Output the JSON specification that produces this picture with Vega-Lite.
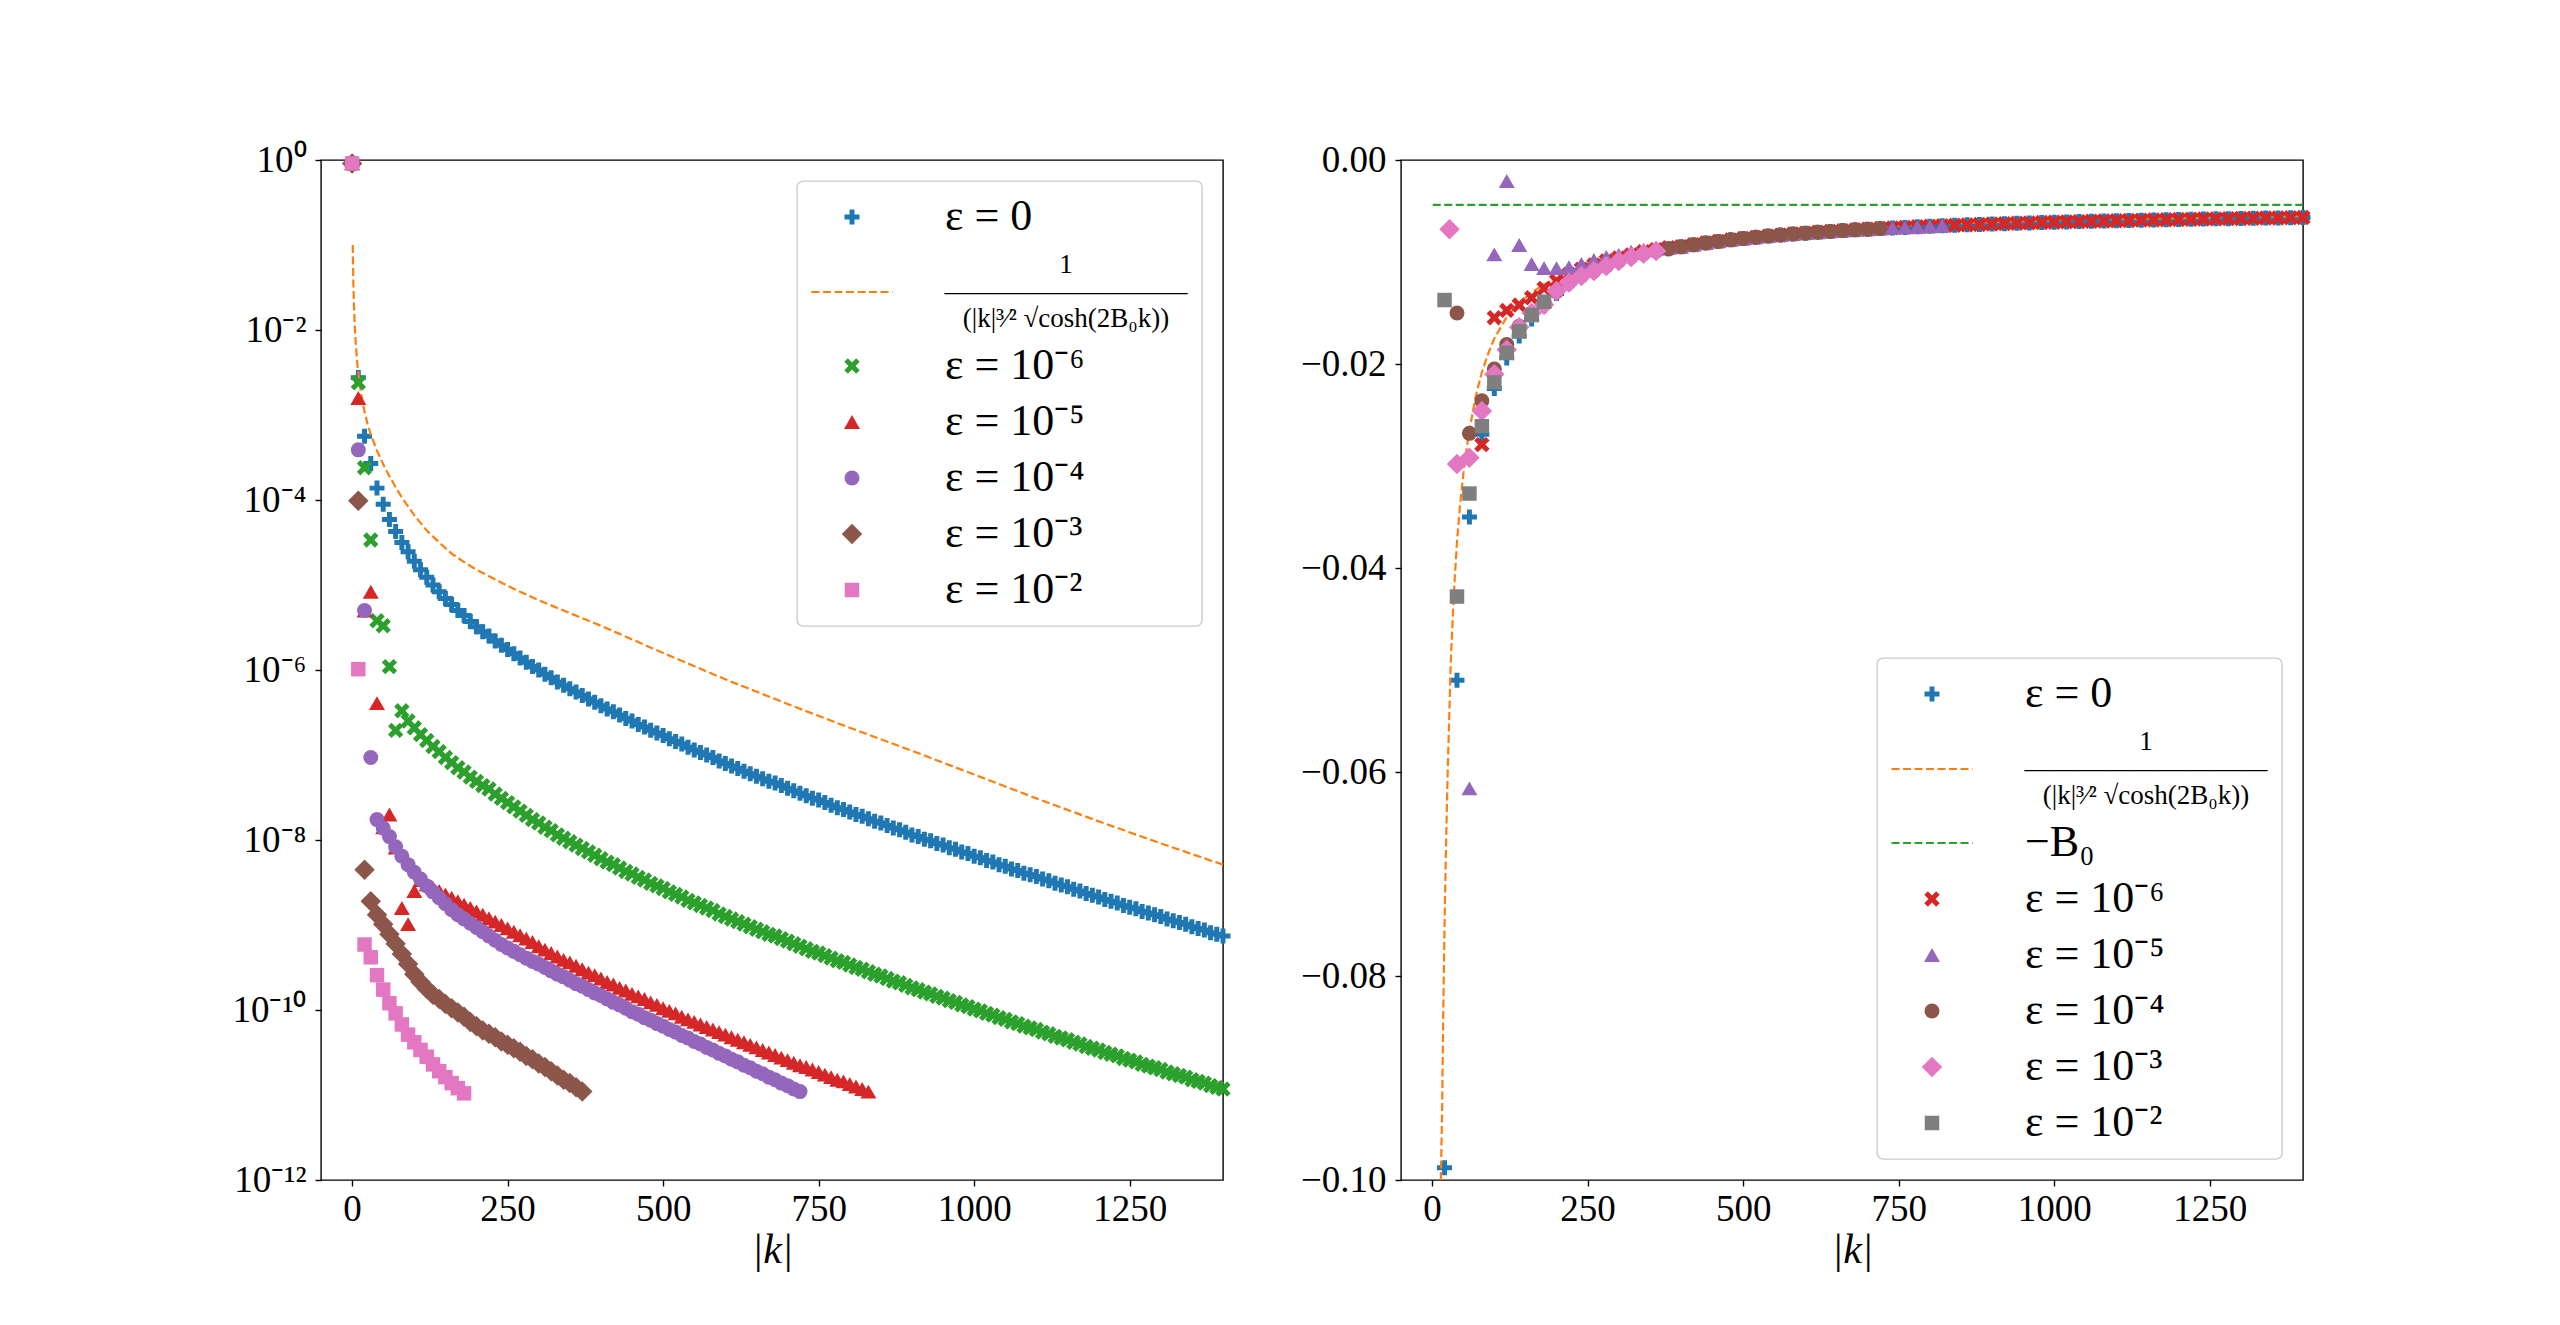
{
  "$schema": "https://vega.github.io/schema/vega-lite/v6.json",
  "background": "white",
  "padding": {"left": 210, "top": 140, "right": 10, "bottom": 10},
  "config": {
    "font": "Liberation Serif",
    "view": {"stroke": "black", "strokeWidth": 1.4},
    "axis": {
      "domain": false, "grid": false,
      "labelFont": "Liberation Serif", "labelFontSize": 37, "labelColor": "black",
      "tickColor": "black", "tickWidth": 1.4, "tickSize": 6,
      "titleFont": "Liberation Serif", "titleFontSize": 42, "titleFontWeight": "normal", "titleColor": "black"
    },
    "axisX": {"labelPadding": 5, "titlePadding": 2, "labelFlush": false},
    "axisY": {"labelPadding": 9},
    "legend": {
      "padding": 14, "rowPadding": 12, "offset": 21,
      "labelFont": "Liberation Serif", "labelFontSize": 44, "labelColor": "black", "labelLimit": 700,
      "fillColor": "rgba(255,255,255,0.8)", "strokeColor": "#cccccc", "strokeWidth": 1.4, "cornerRadius": 6,
      "symbolOffset": 19, "labelOffset": 71, "symbolOpacity": 1
    }
  },
  "datasets": {
    "L_e0": [{"k":10,"v":-2.56},{"k":20,"v":-3.25},{"k":30,"v":-3.57},{"k":40,"v":-3.86},{"k":50,"v":-4.05},{"k":60,"v":-4.23},{"k":70,"v":-4.37},{"k":80,"v":-4.5},{"k":90,"v":-4.61},{"k":100,"v":-4.72},{"k":110,"v":-4.82},{"k":120,"v":-4.91},{"k":130,"v":-5.0},{"k":140,"v":-5.08},{"k":150,"v":-5.16},{"k":160,"v":-5.23},{"k":170,"v":-5.3},{"k":180,"v":-5.36},{"k":190,"v":-5.43},{"k":200,"v":-5.49},{"k":210,"v":-5.55},{"k":220,"v":-5.6},{"k":230,"v":-5.66},{"k":240,"v":-5.71},{"k":250,"v":-5.76},{"k":260,"v":-5.81},{"k":270,"v":-5.86},{"k":280,"v":-5.91},{"k":290,"v":-5.96},{"k":300,"v":-6.0},{"k":310,"v":-6.05},{"k":320,"v":-6.09},{"k":330,"v":-6.14},{"k":340,"v":-6.18},{"k":350,"v":-6.22},{"k":360,"v":-6.26},{"k":370,"v":-6.3},{"k":380,"v":-6.34},{"k":390,"v":-6.38},{"k":400,"v":-6.42},{"k":410,"v":-6.46},{"k":420,"v":-6.49},{"k":430,"v":-6.53},{"k":440,"v":-6.57},{"k":450,"v":-6.6},{"k":460,"v":-6.64},{"k":470,"v":-6.67},{"k":480,"v":-6.71},{"k":490,"v":-6.74},{"k":500,"v":-6.77},{"k":510,"v":-6.81},{"k":520,"v":-6.84},{"k":530,"v":-6.87},{"k":540,"v":-6.91},{"k":550,"v":-6.94},{"k":560,"v":-6.97},{"k":570,"v":-7.0},{"k":580,"v":-7.03},{"k":590,"v":-7.07},{"k":600,"v":-7.1},{"k":610,"v":-7.13},{"k":620,"v":-7.16},{"k":630,"v":-7.19},{"k":640,"v":-7.22},{"k":650,"v":-7.25},{"k":660,"v":-7.28},{"k":670,"v":-7.31},{"k":680,"v":-7.33},{"k":690,"v":-7.36},{"k":700,"v":-7.39},{"k":710,"v":-7.42},{"k":720,"v":-7.45},{"k":730,"v":-7.48},{"k":740,"v":-7.51},{"k":750,"v":-7.53},{"k":760,"v":-7.56},{"k":770,"v":-7.59},{"k":780,"v":-7.62},{"k":790,"v":-7.64},{"k":800,"v":-7.67},{"k":810,"v":-7.7},{"k":820,"v":-7.72},{"k":830,"v":-7.75},{"k":840,"v":-7.78},{"k":850,"v":-7.8},{"k":860,"v":-7.83},{"k":870,"v":-7.86},{"k":880,"v":-7.88},{"k":890,"v":-7.91},{"k":900,"v":-7.94},{"k":910,"v":-7.96},{"k":920,"v":-7.99},{"k":930,"v":-8.01},{"k":940,"v":-8.04},{"k":950,"v":-8.06},{"k":960,"v":-8.09},{"k":970,"v":-8.11},{"k":980,"v":-8.14},{"k":990,"v":-8.16},{"k":1000,"v":-8.19},{"k":1010,"v":-8.21},{"k":1020,"v":-8.24},{"k":1030,"v":-8.26},{"k":1040,"v":-8.29},{"k":1050,"v":-8.31},{"k":1060,"v":-8.34},{"k":1070,"v":-8.36},{"k":1080,"v":-8.39},{"k":1090,"v":-8.41},{"k":1100,"v":-8.43},{"k":1110,"v":-8.46},{"k":1120,"v":-8.48},{"k":1130,"v":-8.51},{"k":1140,"v":-8.53},{"k":1150,"v":-8.55},{"k":1160,"v":-8.58},{"k":1170,"v":-8.6},{"k":1180,"v":-8.63},{"k":1190,"v":-8.65},{"k":1200,"v":-8.67},{"k":1210,"v":-8.7},{"k":1220,"v":-8.72},{"k":1230,"v":-8.74},{"k":1240,"v":-8.77},{"k":1250,"v":-8.79},{"k":1260,"v":-8.81},{"k":1270,"v":-8.84},{"k":1280,"v":-8.86},{"k":1290,"v":-8.88},{"k":1300,"v":-8.9},{"k":1310,"v":-8.93},{"k":1320,"v":-8.95},{"k":1330,"v":-8.97},{"k":1340,"v":-8.99},{"k":1350,"v":-9.02},{"k":1360,"v":-9.04},{"k":1370,"v":-9.06},{"k":1380,"v":-9.09},{"k":1390,"v":-9.11},{"k":1400,"v":-9.13}],
    "L_fit": [{"k":1,"v":-1.0},{"k":2,"v":-1.45},{"k":3,"v":-1.72},{"k":4,"v":-1.9},{"k":5,"v":-2.05},{"k":6,"v":-2.17},{"k":8,"v":-2.36},{"k":10,"v":-2.5},{"k":12,"v":-2.62},{"k":15,"v":-2.77},{"k":20,"v":-2.96},{"k":25,"v":-3.11},{"k":30,"v":-3.23},{"k":40,"v":-3.42},{"k":50,"v":-3.58},{"k":60,"v":-3.72},{"k":70,"v":-3.85},{"k":80,"v":-3.97},{"k":100,"v":-4.18},{"k":120,"v":-4.36},{"k":140,"v":-4.5},{"k":160,"v":-4.63},{"k":180,"v":-4.73},{"k":200,"v":-4.82},{"k":250,"v":-5.01},{"k":300,"v":-5.18},{"k":350,"v":-5.33},{"k":400,"v":-5.48},{"k":450,"v":-5.64},{"k":500,"v":-5.8},{"k":600,"v":-6.11},{"k":700,"v":-6.4},{"k":800,"v":-6.68},{"k":900,"v":-6.95},{"k":1000,"v":-7.23},{"k":1100,"v":-7.51},{"k":1200,"v":-7.78},{"k":1300,"v":-8.04},{"k":1400,"v":-8.29}],
    "L_e6": [{"k":0,"v":-0.04},{"k":10,"v":-2.62},{"k":20,"v":-3.62},{"k":30,"v":-4.47},{"k":40,"v":-5.42},{"k":50,"v":-5.48},{"k":60,"v":-5.96},{"k":70,"v":-6.71},{"k":80,"v":-6.48},{"k":90,"v":-6.6},{"k":100,"v":-6.68},{"k":110,"v":-6.76},{"k":120,"v":-6.83},{"k":130,"v":-6.9},{"k":140,"v":-6.96},{"k":150,"v":-7.03},{"k":160,"v":-7.09},{"k":170,"v":-7.15},{"k":180,"v":-7.2},{"k":190,"v":-7.26},{"k":200,"v":-7.31},{"k":210,"v":-7.36},{"k":220,"v":-7.4},{"k":230,"v":-7.46},{"k":240,"v":-7.51},{"k":250,"v":-7.56},{"k":260,"v":-7.61},{"k":270,"v":-7.66},{"k":280,"v":-7.71},{"k":290,"v":-7.76},{"k":300,"v":-7.8},{"k":310,"v":-7.85},{"k":320,"v":-7.89},{"k":330,"v":-7.94},{"k":340,"v":-7.98},{"k":350,"v":-8.02},{"k":360,"v":-8.06},{"k":370,"v":-8.1},{"k":380,"v":-8.14},{"k":390,"v":-8.18},{"k":400,"v":-8.22},{"k":410,"v":-8.26},{"k":420,"v":-8.29},{"k":430,"v":-8.33},{"k":440,"v":-8.37},{"k":450,"v":-8.4},{"k":460,"v":-8.44},{"k":470,"v":-8.47},{"k":480,"v":-8.51},{"k":490,"v":-8.54},{"k":500,"v":-8.57},{"k":510,"v":-8.61},{"k":520,"v":-8.64},{"k":530,"v":-8.67},{"k":540,"v":-8.71},{"k":550,"v":-8.74},{"k":560,"v":-8.77},{"k":570,"v":-8.8},{"k":580,"v":-8.83},{"k":590,"v":-8.87},{"k":600,"v":-8.9},{"k":610,"v":-8.93},{"k":620,"v":-8.96},{"k":630,"v":-8.99},{"k":640,"v":-9.02},{"k":650,"v":-9.05},{"k":660,"v":-9.08},{"k":670,"v":-9.11},{"k":680,"v":-9.13},{"k":690,"v":-9.16},{"k":700,"v":-9.19},{"k":710,"v":-9.22},{"k":720,"v":-9.25},{"k":730,"v":-9.28},{"k":740,"v":-9.31},{"k":750,"v":-9.33},{"k":760,"v":-9.36},{"k":770,"v":-9.39},{"k":780,"v":-9.42},{"k":790,"v":-9.44},{"k":800,"v":-9.47},{"k":810,"v":-9.5},{"k":820,"v":-9.52},{"k":830,"v":-9.55},{"k":840,"v":-9.58},{"k":850,"v":-9.6},{"k":860,"v":-9.63},{"k":870,"v":-9.66},{"k":880,"v":-9.68},{"k":890,"v":-9.71},{"k":900,"v":-9.74},{"k":910,"v":-9.76},{"k":920,"v":-9.79},{"k":930,"v":-9.81},{"k":940,"v":-9.84},{"k":950,"v":-9.86},{"k":960,"v":-9.89},{"k":970,"v":-9.91},{"k":980,"v":-9.94},{"k":990,"v":-9.96},{"k":1000,"v":-9.99},{"k":1010,"v":-10.01},{"k":1020,"v":-10.04},{"k":1030,"v":-10.06},{"k":1040,"v":-10.09},{"k":1050,"v":-10.11},{"k":1060,"v":-10.14},{"k":1070,"v":-10.16},{"k":1080,"v":-10.19},{"k":1090,"v":-10.21},{"k":1100,"v":-10.23},{"k":1110,"v":-10.26},{"k":1120,"v":-10.28},{"k":1130,"v":-10.31},{"k":1140,"v":-10.33},{"k":1150,"v":-10.35},{"k":1160,"v":-10.38},{"k":1170,"v":-10.4},{"k":1180,"v":-10.43},{"k":1190,"v":-10.45},{"k":1200,"v":-10.47},{"k":1210,"v":-10.5},{"k":1220,"v":-10.52},{"k":1230,"v":-10.54},{"k":1240,"v":-10.57},{"k":1250,"v":-10.59},{"k":1260,"v":-10.61},{"k":1270,"v":-10.64},{"k":1280,"v":-10.66},{"k":1290,"v":-10.68},{"k":1300,"v":-10.7},{"k":1310,"v":-10.73},{"k":1320,"v":-10.75},{"k":1330,"v":-10.77},{"k":1340,"v":-10.79},{"k":1350,"v":-10.82},{"k":1360,"v":-10.84},{"k":1370,"v":-10.86},{"k":1380,"v":-10.89},{"k":1390,"v":-10.91},{"k":1400,"v":-10.93}],
    "L_e5": [{"k":0,"v":-0.04},{"k":10,"v":-2.8},{"k":20,"v":-5.3},{"k":30,"v":-5.08},{"k":40,"v":-6.39},{"k":50,"v":-7.85},{"k":60,"v":-7.7},{"k":70,"v":-8.09},{"k":80,"v":-8.8},{"k":90,"v":-8.99},{"k":100,"v":-8.6},{"k":110,"v":-8.47},{"k":120,"v":-8.52},{"k":130,"v":-8.56},{"k":140,"v":-8.6},{"k":150,"v":-8.64},{"k":160,"v":-8.68},{"k":170,"v":-8.72},{"k":180,"v":-8.76},{"k":190,"v":-8.8},{"k":200,"v":-8.84},{"k":210,"v":-8.88},{"k":220,"v":-8.92},{"k":230,"v":-8.96},{"k":240,"v":-9.0},{"k":250,"v":-9.04},{"k":260,"v":-9.08},{"k":270,"v":-9.12},{"k":280,"v":-9.16},{"k":290,"v":-9.2},{"k":300,"v":-9.25},{"k":310,"v":-9.29},{"k":320,"v":-9.33},{"k":330,"v":-9.37},{"k":340,"v":-9.41},{"k":350,"v":-9.44},{"k":360,"v":-9.48},{"k":370,"v":-9.52},{"k":380,"v":-9.56},{"k":390,"v":-9.59},{"k":400,"v":-9.63},{"k":410,"v":-9.67},{"k":420,"v":-9.7},{"k":430,"v":-9.74},{"k":440,"v":-9.77},{"k":450,"v":-9.81},{"k":460,"v":-9.84},{"k":470,"v":-9.87},{"k":480,"v":-9.91},{"k":490,"v":-9.94},{"k":500,"v":-9.98},{"k":510,"v":-10.01},{"k":520,"v":-10.04},{"k":530,"v":-10.08},{"k":540,"v":-10.11},{"k":550,"v":-10.14},{"k":560,"v":-10.17},{"k":570,"v":-10.2},{"k":580,"v":-10.23},{"k":590,"v":-10.26},{"k":600,"v":-10.29},{"k":610,"v":-10.32},{"k":620,"v":-10.35},{"k":630,"v":-10.38},{"k":640,"v":-10.41},{"k":650,"v":-10.44},{"k":660,"v":-10.47},{"k":670,"v":-10.5},{"k":680,"v":-10.53},{"k":690,"v":-10.56},{"k":700,"v":-10.59},{"k":710,"v":-10.62},{"k":720,"v":-10.65},{"k":730,"v":-10.67},{"k":740,"v":-10.7},{"k":750,"v":-10.73},{"k":760,"v":-10.76},{"k":770,"v":-10.79},{"k":780,"v":-10.82},{"k":790,"v":-10.84},{"k":800,"v":-10.87},{"k":810,"v":-10.9},{"k":820,"v":-10.93},{"k":830,"v":-10.96}],
    "L_e4": [{"k":0,"v":-0.04},{"k":10,"v":-3.41},{"k":20,"v":-5.3},{"k":30,"v":-7.03},{"k":40,"v":-7.76},{"k":50,"v":-7.86},{"k":60,"v":-7.96},{"k":70,"v":-8.08},{"k":80,"v":-8.19},{"k":90,"v":-8.29},{"k":100,"v":-8.38},{"k":110,"v":-8.46},{"k":120,"v":-8.54},{"k":130,"v":-8.61},{"k":140,"v":-8.68},{"k":150,"v":-8.75},{"k":160,"v":-8.82},{"k":170,"v":-8.88},{"k":180,"v":-8.93},{"k":190,"v":-8.98},{"k":200,"v":-9.03},{"k":210,"v":-9.08},{"k":220,"v":-9.13},{"k":230,"v":-9.18},{"k":240,"v":-9.23},{"k":250,"v":-9.27},{"k":260,"v":-9.31},{"k":270,"v":-9.35},{"k":280,"v":-9.39},{"k":290,"v":-9.43},{"k":300,"v":-9.46},{"k":310,"v":-9.5},{"k":320,"v":-9.54},{"k":330,"v":-9.58},{"k":340,"v":-9.61},{"k":350,"v":-9.65},{"k":360,"v":-9.69},{"k":370,"v":-9.72},{"k":380,"v":-9.76},{"k":390,"v":-9.8},{"k":400,"v":-9.83},{"k":410,"v":-9.87},{"k":420,"v":-9.91},{"k":430,"v":-9.94},{"k":440,"v":-9.98},{"k":450,"v":-10.02},{"k":460,"v":-10.05},{"k":470,"v":-10.09},{"k":480,"v":-10.12},{"k":490,"v":-10.16},{"k":500,"v":-10.19},{"k":510,"v":-10.23},{"k":520,"v":-10.26},{"k":530,"v":-10.3},{"k":540,"v":-10.33},{"k":550,"v":-10.37},{"k":560,"v":-10.4},{"k":570,"v":-10.44},{"k":580,"v":-10.47},{"k":590,"v":-10.51},{"k":600,"v":-10.54},{"k":610,"v":-10.58},{"k":620,"v":-10.61},{"k":630,"v":-10.65},{"k":640,"v":-10.68},{"k":650,"v":-10.72},{"k":660,"v":-10.75},{"k":670,"v":-10.79},{"k":680,"v":-10.82},{"k":690,"v":-10.86},{"k":700,"v":-10.89},{"k":710,"v":-10.93},{"k":720,"v":-10.96}],
    "L_e3": [{"k":0,"v":-0.04},{"k":10,"v":-4.01},{"k":20,"v":-8.35},{"k":30,"v":-8.72},{"k":40,"v":-8.88},{"k":50,"v":-8.99},{"k":60,"v":-9.11},{"k":70,"v":-9.22},{"k":80,"v":-9.34},{"k":90,"v":-9.46},{"k":100,"v":-9.58},{"k":110,"v":-9.67},{"k":120,"v":-9.75},{"k":130,"v":-9.82},{"k":140,"v":-9.87},{"k":150,"v":-9.93},{"k":160,"v":-9.98},{"k":170,"v":-10.03},{"k":180,"v":-10.08},{"k":190,"v":-10.14},{"k":200,"v":-10.19},{"k":210,"v":-10.24},{"k":220,"v":-10.28},{"k":230,"v":-10.32},{"k":240,"v":-10.37},{"k":250,"v":-10.41},{"k":260,"v":-10.45},{"k":270,"v":-10.49},{"k":280,"v":-10.54},{"k":290,"v":-10.58},{"k":300,"v":-10.63},{"k":310,"v":-10.67},{"k":320,"v":-10.72},{"k":330,"v":-10.77},{"k":340,"v":-10.82},{"k":350,"v":-10.86},{"k":360,"v":-10.91},{"k":370,"v":-10.96}],
    "L_e2": [{"k":0,"v":-0.04},{"k":10,"v":-5.99},{"k":20,"v":-9.23},{"k":30,"v":-9.38},{"k":40,"v":-9.59},{"k":50,"v":-9.76},{"k":60,"v":-9.92},{"k":70,"v":-10.04},{"k":80,"v":-10.17},{"k":90,"v":-10.29},{"k":100,"v":-10.38},{"k":110,"v":-10.47},{"k":120,"v":-10.55},{"k":130,"v":-10.64},{"k":140,"v":-10.72},{"k":150,"v":-10.79},{"k":160,"v":-10.86},{"k":170,"v":-10.92},{"k":180,"v":-10.98}],
    "R_e0": [{"k":20,"v":-0.0988},{"k":40,"v":-0.051},{"k":60,"v":-0.035},{"k":80,"v":-0.0269},{"k":100,"v":-0.0224},{"k":120,"v":-0.0194},{"k":140,"v":-0.01725},{"k":160,"v":-0.0156},{"k":180,"v":-0.0143},{"k":200,"v":-0.0131},{"k":220,"v":-0.0121},{"k":240,"v":-0.0114},{"k":260,"v":-0.0109},{"k":280,"v":-0.0104},{"k":300,"v":-0.0099},{"k":320,"v":-0.00951},{"k":340,"v":-0.00918},{"k":360,"v":-0.00892},{"k":380,"v":-0.00871},{"k":400,"v":-0.0085},{"k":420,"v":-0.00831},{"k":440,"v":-0.00814},{"k":460,"v":-0.00798},{"k":480,"v":-0.00783},{"k":500,"v":-0.0077},{"k":520,"v":-0.00758},{"k":540,"v":-0.00746},{"k":560,"v":-0.00736},{"k":580,"v":-0.00726},{"k":600,"v":-0.00717},{"k":620,"v":-0.00708},{"k":640,"v":-0.007},{"k":660,"v":-0.00692},{"k":680,"v":-0.00685},{"k":700,"v":-0.00679},{"k":720,"v":-0.00672},{"k":740,"v":-0.00666},{"k":760,"v":-0.00661},{"k":780,"v":-0.00655},{"k":800,"v":-0.0065},{"k":820,"v":-0.00645},{"k":840,"v":-0.0064},{"k":860,"v":-0.00636},{"k":880,"v":-0.00632},{"k":900,"v":-0.00628},{"k":920,"v":-0.00624},{"k":940,"v":-0.0062},{"k":960,"v":-0.00617},{"k":980,"v":-0.00613},{"k":1000,"v":-0.0061},{"k":1020,"v":-0.00607},{"k":1040,"v":-0.00604},{"k":1060,"v":-0.00601},{"k":1080,"v":-0.00598},{"k":1100,"v":-0.00595},{"k":1120,"v":-0.00593},{"k":1140,"v":-0.0059},{"k":1160,"v":-0.00588},{"k":1180,"v":-0.00586},{"k":1200,"v":-0.00583},{"k":1220,"v":-0.00581},{"k":1240,"v":-0.00579},{"k":1260,"v":-0.00577},{"k":1280,"v":-0.00575},{"k":1300,"v":-0.00573},{"k":1320,"v":-0.00571},{"k":1340,"v":-0.00569},{"k":1360,"v":-0.00568},{"k":1380,"v":-0.00566},{"k":1400,"v":-0.00564}],
    "R_fit": [{"k":14,"v":-0.1},{"k":16,"v":-0.0935},{"k":18,"v":-0.0832},{"k":20,"v":-0.075},{"k":22,"v":-0.0684},{"k":25,"v":-0.06},{"k":28,"v":-0.0536},{"k":30,"v":-0.0492},{"k":35,"v":-0.0425},{"k":40,"v":-0.0374},{"k":45,"v":-0.0338},{"k":50,"v":-0.0309},{"k":55,"v":-0.0285},{"k":60,"v":-0.0265},{"k":70,"v":-0.0232},{"k":80,"v":-0.0208},{"k":90,"v":-0.019},{"k":100,"v":-0.0175},{"k":120,"v":-0.0154},{"k":140,"v":-0.014},{"k":160,"v":-0.013},{"k":180,"v":-0.0122},{"k":200,"v":-0.0116},{"k":250,"v":-0.0102},{"k":300,"v":-0.0093},{"k":350,"v":-0.0086},{"k":400,"v":-0.0081},{"k":500,"v":-0.0074},{"k":600,"v":-0.0069},{"k":700,"v":-0.0066},{"k":800,"v":-0.0063},{"k":900,"v":-0.0061},{"k":1000,"v":-0.0059},{"k":1100,"v":-0.0058},{"k":1200,"v":-0.0057},{"k":1300,"v":-0.0056},{"k":1400,"v":-0.0055}],
    "R_B0": [{"k":1,"v":-0.0044},{"k":1400,"v":-0.0044}],
    "R_e6": [{"k":80,"v":-0.0279},{"k":100,"v":-0.01546},{"k":120,"v":-0.01474},{"k":140,"v":-0.01422},{"k":160,"v":-0.0135},{"k":180,"v":-0.01258},{"k":200,"v":-0.01186},{"k":220,"v":-0.0112},{"k":240,"v":-0.0107},{"k":260,"v":-0.0103},{"k":280,"v":-0.0099},{"k":300,"v":-0.0096},{"k":320,"v":-0.0093},{"k":340,"v":-0.009},{"k":360,"v":-0.0088},{"k":380,"v":-0.0086},{"k":400,"v":-0.0085},{"k":420,"v":-0.00831},{"k":440,"v":-0.00814},{"k":460,"v":-0.00798},{"k":480,"v":-0.00783},{"k":500,"v":-0.0077},{"k":520,"v":-0.00758},{"k":540,"v":-0.00746},{"k":560,"v":-0.00736},{"k":580,"v":-0.00726},{"k":600,"v":-0.00717},{"k":620,"v":-0.00708},{"k":640,"v":-0.007},{"k":660,"v":-0.00692},{"k":680,"v":-0.00685},{"k":700,"v":-0.00679},{"k":720,"v":-0.00672},{"k":740,"v":-0.00666},{"k":760,"v":-0.00661},{"k":780,"v":-0.00655},{"k":800,"v":-0.0065},{"k":820,"v":-0.00645},{"k":840,"v":-0.0064},{"k":860,"v":-0.00636},{"k":880,"v":-0.00632},{"k":900,"v":-0.00628},{"k":920,"v":-0.00624},{"k":940,"v":-0.0062},{"k":960,"v":-0.00617},{"k":980,"v":-0.00613},{"k":1000,"v":-0.0061},{"k":1020,"v":-0.00607},{"k":1040,"v":-0.00604},{"k":1060,"v":-0.00601},{"k":1080,"v":-0.00598},{"k":1100,"v":-0.00595},{"k":1120,"v":-0.00593},{"k":1140,"v":-0.0059},{"k":1160,"v":-0.00588},{"k":1180,"v":-0.00586},{"k":1200,"v":-0.00583},{"k":1220,"v":-0.00581},{"k":1240,"v":-0.00579},{"k":1260,"v":-0.00577},{"k":1280,"v":-0.00575},{"k":1300,"v":-0.00573},{"k":1320,"v":-0.00571},{"k":1340,"v":-0.00569},{"k":1360,"v":-0.00568},{"k":1380,"v":-0.00566},{"k":1400,"v":-0.00564}],
    "R_e5": [{"k":60,"v":-0.0616},{"k":100,"v":-0.00925},{"k":120,"v":-0.00206},{"k":140,"v":-0.00833},{"k":160,"v":-0.0102},{"k":180,"v":-0.0106},{"k":200,"v":-0.0106},{"k":220,"v":-0.0105},{"k":240,"v":-0.0102},{"k":260,"v":-0.0098},{"k":280,"v":-0.0095},{"k":300,"v":-0.0093},{"k":320,"v":-0.009},{"k":340,"v":-0.0088},{"k":360,"v":-0.0087},{"k":380,"v":-0.0086},{"k":400,"v":-0.0085},{"k":420,"v":-0.00831},{"k":440,"v":-0.00814},{"k":460,"v":-0.00798},{"k":480,"v":-0.00783},{"k":500,"v":-0.0077},{"k":520,"v":-0.00758},{"k":540,"v":-0.00746},{"k":560,"v":-0.00736},{"k":580,"v":-0.00726},{"k":600,"v":-0.00717},{"k":620,"v":-0.00708},{"k":640,"v":-0.007},{"k":660,"v":-0.00692},{"k":680,"v":-0.00685},{"k":700,"v":-0.00679},{"k":720,"v":-0.00672},{"k":740,"v":-0.00666},{"k":760,"v":-0.00661},{"k":780,"v":-0.00655},{"k":800,"v":-0.0065},{"k":820,"v":-0.00645}],
    "R_e4": [{"k":40,"v":-0.015},{"k":60,"v":-0.0268},{"k":80,"v":-0.0236},{"k":100,"v":-0.0205},{"k":120,"v":-0.0181},{"k":140,"v":-0.0163},{"k":160,"v":-0.015},{"k":180,"v":-0.014},{"k":200,"v":-0.0129},{"k":220,"v":-0.012},{"k":240,"v":-0.01137},{"k":260,"v":-0.01088},{"k":280,"v":-0.01039},{"k":300,"v":-0.0099},{"k":320,"v":-0.00951},{"k":340,"v":-0.00918},{"k":360,"v":-0.00892},{"k":380,"v":-0.00871},{"k":400,"v":-0.0085},{"k":420,"v":-0.00831},{"k":440,"v":-0.00814},{"k":460,"v":-0.00798},{"k":480,"v":-0.00783},{"k":500,"v":-0.0077},{"k":520,"v":-0.00758},{"k":540,"v":-0.00746},{"k":560,"v":-0.00736},{"k":580,"v":-0.00726},{"k":600,"v":-0.00717},{"k":620,"v":-0.00708},{"k":640,"v":-0.007},{"k":660,"v":-0.00692},{"k":680,"v":-0.00685},{"k":700,"v":-0.00679},{"k":720,"v":-0.00672}],
    "R_e3": [{"k":28,"v":-0.0068},{"k":40,"v":-0.0298},{"k":60,"v":-0.0292},{"k":80,"v":-0.0246},{"k":100,"v":-0.021},{"k":120,"v":-0.0186},{"k":140,"v":-0.0164},{"k":160,"v":-0.015},{"k":180,"v":-0.0142},{"k":200,"v":-0.01284},{"k":220,"v":-0.012},{"k":240,"v":-0.01137},{"k":260,"v":-0.01088},{"k":280,"v":-0.01039},{"k":300,"v":-0.0099},{"k":320,"v":-0.00951},{"k":340,"v":-0.00918},{"k":360,"v":-0.00892}],
    "R_e2": [{"k":20,"v":-0.01373},{"k":40,"v":-0.0428},{"k":60,"v":-0.0327},{"k":80,"v":-0.0261},{"k":100,"v":-0.0218},{"k":120,"v":-0.0189},{"k":140,"v":-0.0168},{"k":160,"v":-0.0152},{"k":180,"v":-0.0139}]
  },
  "spacing": 48,
  "resolve": {"scale": {"color": "independent", "shape": "independent"}},
  "hconcat": [
    {
      "width": 902,
      "height": 1020,
      "encoding": {
        "x": {"field": "k", "type": "quantitative", "scale": {"domain": [-50, 1400], "nice": false, "zero": false},
              "axis": {"values": [0, 250, 500, 750, 1000, 1250], "format": "d", "title": "|k|", "titleFontStyle": "italic"}},
        "y": {"field": "v", "type": "quantitative", "scale": {"domain": [-12, 0], "nice": false, "zero": false},
              "axis": {"values": [-12, -10, -8, -6, -4, -2, 0], "title": null, "minExtent": 110, "maxExtent": 110,
                       "labelExpr": "datum.value == 0 ? '10⁰' : datum.value == -2 ? '10⁻²' : datum.value == -4 ? '10⁻⁴' : datum.value == -6 ? '10⁻⁶' : datum.value == -8 ? '10⁻⁸' : datum.value == -10 ? '10⁻¹⁰' : '10⁻¹²'"}}
      },
      "layer": [
        {
          "data": {"name": "L_e0"},
          "mark": {"type": "point", "filled": true, "opacity": 1, "size": 225},
          "encoding": {
            "color": {"datum": "e0", "type": "nominal",
              "scale": {"domain": ["e0", "fit", "e6", "e5", "e4", "e3", "e2"], "range": ["#1f77b4", "#ff7f0e", "#2ca02c", "#d62728", "#9467bd", "#8c564b", "#e377c2"]},
              "legend": {
                "title": null, "orient": "top-right",
                "labelExpr": "datum.value == 'e0' ? 'ε = 0' : datum.value == 'fit' ? ['1', '—————————', '(|k|³⁄² √cosh(2B₀k))'] : datum.value == 'e6' ? 'ε = 10⁻⁶' : datum.value == 'e5' ? 'ε = 10⁻⁵' : datum.value == 'e4' ? 'ε = 10⁻⁴' : datum.value == 'e3' ? 'ε = 10⁻³' : 'ε = 10⁻²'",
                "encode": {
                  "symbols": {"update": {
                    "fill": {"signal": "['#1f77b4','transparent','#2ca02c','#d62728','#9467bd','#8c564b','#e377c2'][indexof(['e0','fit','e6','e5','e4','e3','e2'], datum.value)]"},
                    "stroke": {"signal": "datum.value == 'fit' ? '#ff7f0e' : 'transparent'"},
                    "strokeWidth": {"signal": "datum.value == 'fit' ? 2.2 : 0"},
                    "strokeDash": {"signal": "datum.value == 'fit' ? [8, 3.5] : [1, 0]"},
                    "size": {"signal": "[225,225,280,256,225,420,210][indexof(['e0','fit','e6','e5','e4','e3','e2'], datum.value)]"},
                    "opacity": {"value": 1}
                  }},
                  "labels": {"update": {
                    "fontSize": {"signal": "datum.value == 'fit' ? 27 : 44"},
                    "lineHeight": {"signal": "datum.value == 'fit' ? 27 : 44"},
                    "align": {"signal": "datum.value == 'fit' ? 'center' : 'left'"},
                    "dx": {"signal": "datum.value == 'fit' ? 121 : 0"},
                    "dy": {"signal": "datum.value == 'fit' ? -27 : 0"}
                  }}
                }
              }},
            "shape": {"datum": "e0", "type": "nominal",
              "scale": {"domain": ["e0", "fit", "e6", "e5", "e4", "e3", "e2"],
                        "range": ["M-0.33,-1L0.33,-1L0.33,-0.33L1,-0.33L1,0.33L0.33,0.33L0.33,1L-0.33,1L-0.33,0.33L-1,0.33L-1,-0.33L-0.33,-0.33Z", "M-5.4,0L5.4,0", "M-0.495,0.919L0,0.424L0.495,0.919L0.919,0.495L0.424,0L0.919,-0.495L0.495,-0.919L0,-0.424L-0.495,-0.919L-0.919,-0.495L-0.424,0L-0.919,0.495Z", "triangle-up", "circle", "diamond", "square"]},
              "legend": {"title": null, "orient": "top-right"}}
          }
        },
        {
          "data": {"name": "L_fit"},
          "mark": {"type": "line", "strokeWidth": 2.2, "strokeDash": [8, 3.5]},
          "encoding": {"color": {"datum": "fit", "type": "nominal"}}
        },
        {
          "data": {"name": "L_e6"},
          "mark": {"type": "point", "filled": true, "opacity": 1, "size": 280},
          "encoding": {"color": {"datum": "e6", "type": "nominal"}, "shape": {"datum": "e6", "type": "nominal"}}
        },
        {
          "data": {"name": "L_e5"},
          "mark": {"type": "point", "filled": true, "opacity": 1, "size": 256},
          "encoding": {"color": {"datum": "e5", "type": "nominal"}, "shape": {"datum": "e5", "type": "nominal"}}
        },
        {
          "data": {"name": "L_e4"},
          "mark": {"type": "point", "filled": true, "opacity": 1, "size": 225},
          "encoding": {"color": {"datum": "e4", "type": "nominal"}, "shape": {"datum": "e4", "type": "nominal"}}
        },
        {
          "data": {"name": "L_e3"},
          "mark": {"type": "point", "filled": true, "opacity": 1, "size": 420},
          "encoding": {"color": {"datum": "e3", "type": "nominal"}, "shape": {"datum": "e3", "type": "nominal"}}
        },
        {
          "data": {"name": "L_e2"},
          "mark": {"type": "point", "filled": true, "opacity": 1, "size": 210},
          "encoding": {"color": {"datum": "e2", "type": "nominal"}, "shape": {"datum": "e2", "type": "nominal"}}
        }
      ]
    },
    {
      "width": 902,
      "height": 1020,
      "encoding": {
        "x": {"field": "k", "type": "quantitative", "scale": {"domain": [-50, 1400], "nice": false, "zero": false},
              "axis": {"values": [0, 250, 500, 750, 1000, 1250], "format": "d", "title": "|k|", "titleFontStyle": "italic"}},
        "y": {"field": "v", "type": "quantitative", "scale": {"domain": [-0.1, 0], "nice": false, "zero": false},
              "axis": {"values": [-0.1, -0.08, -0.06, -0.04, -0.02, 0], "format": ".2f", "title": null, "minExtent": 120, "maxExtent": 120}}
      },
      "layer": [
        {
          "data": {"name": "R_e0"},
          "mark": {"type": "point", "filled": true, "opacity": 1, "size": 225},
          "encoding": {
            "color": {"datum": "e0", "type": "nominal",
              "scale": {"domain": ["e0", "fit", "B0", "e6", "e5", "e4", "e3", "e2"], "range": ["#1f77b4", "#ff7f0e", "#2ca02c", "#d62728", "#9467bd", "#8c564b", "#e377c2", "#7f7f7f"]},
              "legend": {
                "title": null, "orient": "bottom-right",
                "labelExpr": "datum.value == 'e0' ? 'ε = 0' : datum.value == 'fit' ? ['1', '—————————', '(|k|³⁄² √cosh(2B₀k))'] : datum.value == 'B0' ? '−B₀' : datum.value == 'e6' ? 'ε = 10⁻⁶' : datum.value == 'e5' ? 'ε = 10⁻⁵' : datum.value == 'e4' ? 'ε = 10⁻⁴' : datum.value == 'e3' ? 'ε = 10⁻³' : 'ε = 10⁻²'",
                "encode": {
                  "symbols": {"update": {
                    "fill": {"signal": "['#1f77b4','transparent','transparent','#d62728','#9467bd','#8c564b','#e377c2','#7f7f7f'][indexof(['e0','fit','B0','e6','e5','e4','e3','e2'], datum.value)]"},
                    "stroke": {"signal": "datum.value == 'fit' ? '#ff7f0e' : datum.value == 'B0' ? '#2ca02c' : 'transparent'"},
                    "strokeWidth": {"signal": "datum.value == 'fit' || datum.value == 'B0' ? 2.2 : 0"},
                    "strokeDash": {"signal": "datum.value == 'fit' || datum.value == 'B0' ? [8, 3.5] : [1, 0]"},
                    "size": {"signal": "[225,225,225,280,256,225,420,210][indexof(['e0','fit','B0','e6','e5','e4','e3','e2'], datum.value)]"},
                    "opacity": {"value": 1}
                  }},
                  "labels": {"update": {
                    "fontSize": {"signal": "datum.value == 'fit' ? 27 : 44"},
                    "lineHeight": {"signal": "datum.value == 'fit' ? 27 : 44"},
                    "align": {"signal": "datum.value == 'fit' ? 'center' : 'left'"},
                    "dx": {"signal": "datum.value == 'fit' ? 121 : 0"},
                    "dy": {"signal": "datum.value == 'fit' ? -27 : 0"}
                  }}
                }
              }},
            "shape": {"datum": "e0", "type": "nominal",
              "scale": {"domain": ["e0", "fit", "B0", "e6", "e5", "e4", "e3", "e2"],
                        "range": ["M-0.33,-1L0.33,-1L0.33,-0.33L1,-0.33L1,0.33L0.33,0.33L0.33,1L-0.33,1L-0.33,0.33L-1,0.33L-1,-0.33L-0.33,-0.33Z", "M-5.4,0L5.4,0", "M-5.4,0L5.4,0", "M-0.495,0.919L0,0.424L0.495,0.919L0.919,0.495L0.424,0L0.919,-0.495L0.495,-0.919L0,-0.424L-0.495,-0.919L-0.919,-0.495L-0.424,0L-0.919,0.495Z", "triangle-up", "circle", "diamond", "square"]},
              "legend": {"title": null, "orient": "bottom-right"}}
          }
        },
        {
          "data": {"name": "R_fit"},
          "mark": {"type": "line", "strokeWidth": 2.2, "strokeDash": [8, 3.5]},
          "encoding": {"color": {"datum": "fit", "type": "nominal"}}
        },
        {
          "data": {"name": "R_B0"},
          "mark": {"type": "line", "strokeWidth": 2.2, "strokeDash": [8, 3.5]},
          "encoding": {"color": {"datum": "B0", "type": "nominal"}}
        },
        {
          "data": {"name": "R_e6"},
          "mark": {"type": "point", "filled": true, "opacity": 1, "size": 280},
          "encoding": {"color": {"datum": "e6", "type": "nominal"}, "shape": {"datum": "e6", "type": "nominal"}}
        },
        {
          "data": {"name": "R_e5"},
          "mark": {"type": "point", "filled": true, "opacity": 1, "size": 256},
          "encoding": {"color": {"datum": "e5", "type": "nominal"}, "shape": {"datum": "e5", "type": "nominal"}}
        },
        {
          "data": {"name": "R_e4"},
          "mark": {"type": "point", "filled": true, "opacity": 1, "size": 225},
          "encoding": {"color": {"datum": "e4", "type": "nominal"}, "shape": {"datum": "e4", "type": "nominal"}}
        },
        {
          "data": {"name": "R_e3"},
          "mark": {"type": "point", "filled": true, "opacity": 1, "size": 420},
          "encoding": {"color": {"datum": "e3", "type": "nominal"}, "shape": {"datum": "e3", "type": "nominal"}}
        },
        {
          "data": {"name": "R_e2"},
          "mark": {"type": "point", "filled": true, "opacity": 1, "size": 210},
          "encoding": {"color": {"datum": "e2", "type": "nominal"}, "shape": {"datum": "e2", "type": "nominal"}}
        }
      ]
    }
  ]
}
